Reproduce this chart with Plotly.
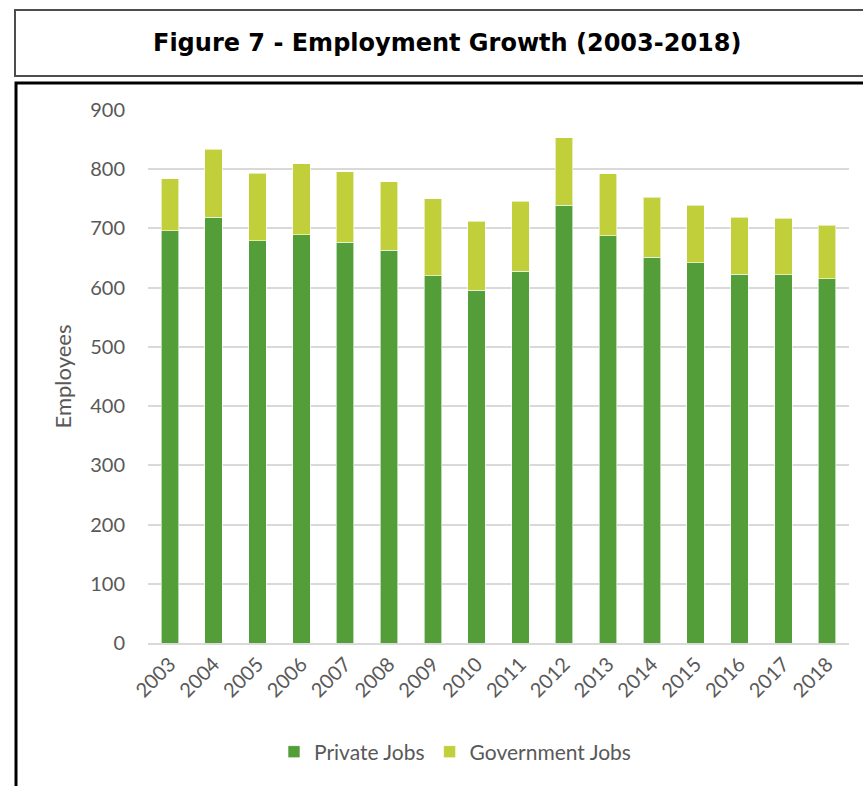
import plotly.graph_objects as go

years = [str(y) for y in range(2003, 2019)]
private_jobs = [696, 719, 679, 689, 677, 663, 620, 596, 628, 739, 688, 651, 642, 623, 622, 615]
government_jobs = [88, 115, 114, 120, 119, 116, 130, 116, 118, 114, 104, 102, 97, 96, 95, 90]
y_ticks = [0, 100, 200, 300, 400, 500, 600, 700, 800, 900]

W, H = 863, 786
L, R, T, B = 148, 849, 110, 643

def px(x):
    return (x - L) / (R - L)

def py(y):
    return (B - y) / (B - T)

txt = "#595959"
fig = go.Figure()
fig.add_trace(go.Bar(x=years, y=private_jobs, name="Private Jobs",
                     marker=dict(color="#549E39", line=dict(color="rgba(255,255,255,0.6)", width=1)),
                     width=0.4))
fig.add_trace(go.Bar(x=years, y=government_jobs, name="Government Jobs",
                     marker=dict(color="#C0CF3A", line=dict(color="rgba(255,255,255,0.6)", width=1)),
                     width=0.4))

fig.update_layout(
    barmode="stack",
    width=W, height=H,
    margin=dict(l=L, r=W - R, t=T, b=H - B),
    paper_bgcolor="white", plot_bgcolor="white",
    font=dict(family="Lato, Open Sans, sans-serif", color=txt, size=20),
    showlegend=True,
    legend=dict(orientation="h", x=px(455), xanchor="center", y=py(752), yanchor="middle",
                font=dict(size=21, color=txt), itemwidth=30, traceorder="normal"),
    xaxis=dict(type="category", range=[-0.5, 15.5], tickangle=-45, showgrid=False,
               showline=True, linecolor="#d9d9d9", linewidth=1.5, ticks="",
               tickfont=dict(size=20, color=txt)),
    yaxis=dict(range=[0, 900], tickvals=y_ticks, showgrid=True, gridcolor="#d9d9d9", gridwidth=1.5,
               zeroline=False, showline=False, ticks="", ticklabelstandoff=22,
               tickfont=dict(size=20, color=txt),
               title=dict(text="Employees", font=dict(size=22, color=txt), standoff=12)),
    shapes=[
        dict(type="rect", xref="paper", yref="paper", x0=px(15), x1=px(900), y0=py(10), y1=py(76),
             line=dict(color="#4d4d4d", width=2), fillcolor="rgba(0,0,0,0)", layer="above"),
        dict(type="rect", xref="paper", yref="paper", x0=px(16), x1=px(900), y0=py(83), y1=py(900),
             line=dict(color="black", width=3), fillcolor="rgba(0,0,0,0)", layer="above"),
    ],
    annotations=[
        dict(text="<b>Figure 7 - Employment Growth (2003-2018)</b>", xref="paper", yref="paper",
             x=px(447), y=py(43), xanchor="center", yanchor="middle", showarrow=False,
             font=dict(family="DejaVu Sans, sans-serif", size=24, color="black")),
    ],
)

fig.write_html("out.html")
